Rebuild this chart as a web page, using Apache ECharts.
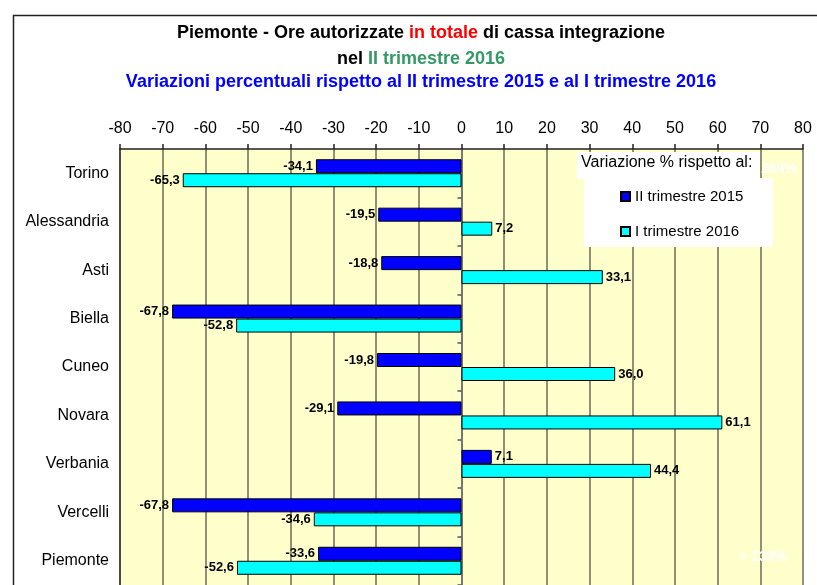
<!DOCTYPE html>
<html>
<head>
<meta charset="utf-8">
<script src="https://cdn.jsdelivr.net/npm/echarts@6/dist/echarts.min.js"></script>
<style>html,body{margin:0;padding:0;background:#fff}#c{width:817px;height:585px}</style>
</head>
<body>
<div id="c"></div>
<script>
const categories = ['Torino','Alessandria','Asti','Biella','Cuneo','Novara','Verbania','Vercelli','Piemonte'];
const seriesNames = ['II trimestre 2015','I trimestre 2016'];
const vsQ2_2015 = [-34.1,-19.5,-18.8,-67.8,-19.8,-29.1,7.1,-67.8,-33.6];
const vsQ1_2016 = [-65.3,7.2,33.1,-52.8,36.0,61.1,44.4,-34.6,-52.6];
const axisMin = -80, axisMax = 80, axisStep = 10;
const offscaleNotes = ['+ 269%','+ 133%'];

const FONT = 'Arial, "Liberation Sans", sans-serif';
const fmt = v => v.toFixed(1).replace('.', ',');
const mkData = arr => arr.map(v => ({value: v, label: {position: v < 0 ? 'left' : 'right'}}));

const chart = echarts.init(document.getElementById('c'), null, {renderer: 'canvas'});
const barLabel = {show: true, formatter: p => fmt(p.value), fontFamily: FONT, fontWeight: 'bold', fontSize: 13, color: '#000', distance: 3};
const T = 18;

chart.setOption({
  backgroundColor: '#fff',
  animation: false,
  textStyle: {fontFamily: FONT},
  grid: {left: 120, right: 14, top: 149, height: 437, show: true, backgroundColor: '#FFFFCC', borderWidth: 0},
  xAxis: {
    type: 'value', position: 'top', min: axisMin, max: axisMax, interval: axisStep,
    axisLine: {show: true, onZero: false, lineStyle: {color: '#222', width: 1.5}},
    axisTick: {show: true, length: 5, lineStyle: {color: '#222', width: 1.5}},
    axisLabel: {fontSize: 16, color: '#000', margin: 12, fontFamily: FONT},
    splitLine: {show: true, lineStyle: {color: '#6b6b58', width: 1.5}}
  },
  yAxis: [
    {
      type: 'category', data: categories, inverse: true,
      axisLine: {show: true, onZero: false, lineStyle: {color: '#333', width: 1.5}},
      axisTick: {show: false},
      axisLabel: {fontSize: 16, color: '#000', margin: 11, fontFamily: FONT}
    },
    {
      type: 'category', data: categories, inverse: true, position: 'left',
      axisLine: {show: true, onZero: true, lineStyle: {color: '#777', width: 2}},
      axisTick: {show: true, length: 4, lineStyle: {color: '#555', width: 1.5}},
      axisLabel: {show: false}
    }
  ],
  legend: {
    orient: 'vertical', left: 620, top: 189, padding: 0, itemGap: 20, itemWidth: 9, itemHeight: 9,
    icon: 'rect', z: 20,
    textStyle: {fontSize: 15, lineHeight: 15, color: '#000', fontFamily: FONT},
    data: seriesNames
  },
  series: [
    {name: seriesNames[0], type: 'bar', yAxisIndex: 0, data: mkData(vsQ2_2015), barWidth: 14, barGap: '0%',
     itemStyle: {color: '#0000FF', borderColor: '#000', borderWidth: 1}, label: barLabel},
    {name: seriesNames[1], type: 'bar', yAxisIndex: 0, data: mkData(vsQ1_2016), barWidth: 14, barGap: '0%',
     itemStyle: {color: '#00FFFF', borderColor: '#000', borderWidth: 1}, label: barLabel}
  ],
  graphic: [
    {type: 'rect', left: 11, top: 13, shape: {width: 900, height: 700}, style: {fill: 'none', stroke: '#222', lineWidth: 1.5}, z: 1, silent: true},
    {type: 'text', x: 421, y: 33, z: 5, style: {text: '{a|Piemonte - Ore autorizzate }{r|in totale}{a| di cassa integrazione}', textAlign: 'center', textVerticalAlign: 'middle',
      rich: {a: {fontFamily: FONT, fontWeight: 'bold', fontSize: T, fill: '#000'}, r: {fontFamily: FONT, fontWeight: 'bold', fontSize: T, fill: '#FF0000'}}}},
    {type: 'text', x: 421, y: 59, z: 5, style: {text: '{a|nel }{g|II trimestre 2016}', textAlign: 'center', textVerticalAlign: 'middle',
      rich: {a: {fontFamily: FONT, fontWeight: 'bold', fontSize: T, fill: '#000'}, g: {fontFamily: FONT, fontWeight: 'bold', fontSize: T, fill: '#339966'}}}},
    {type: 'text', x: 421, y: 82, z: 5, style: {text: 'Variazioni percentuali rispetto al II trimestre 2015 e al I trimestre 2016', textAlign: 'center', textVerticalAlign: 'middle',
      fontFamily: FONT, fontWeight: 'bold', fontSize: T, fill: '#0000FF'}},
    {type: 'text', x: 797, y: 169, z: 5, style: {text: offscaleNotes[0], textAlign: 'right', textVerticalAlign: 'middle', fontFamily: FONT, fontWeight: 'bold', fontSize: 14, fill: '#fff'}},
    {type: 'text', x: 787, y: 557, z: 5, style: {text: offscaleNotes[1], textAlign: 'right', textVerticalAlign: 'middle', fontFamily: FONT, fontWeight: 'bold', fontSize: 14, fill: '#fff'}},
    {type: 'rect', left: 577, top: 152, z: 10, shape: {width: 183, height: 27}, style: {fill: '#fff'}},
    {type: 'rect', left: 584, top: 178, z: 10, shape: {width: 189, height: 69}, style: {fill: '#fff'}},
    {type: 'text', x: 581, y: 163, z: 11, style: {text: 'Variazione % rispetto al:', textAlign: 'left', textVerticalAlign: 'middle', fontFamily: FONT, fontSize: 16, fill: '#000'}}
  ]
});
</script>
</body>
</html>
